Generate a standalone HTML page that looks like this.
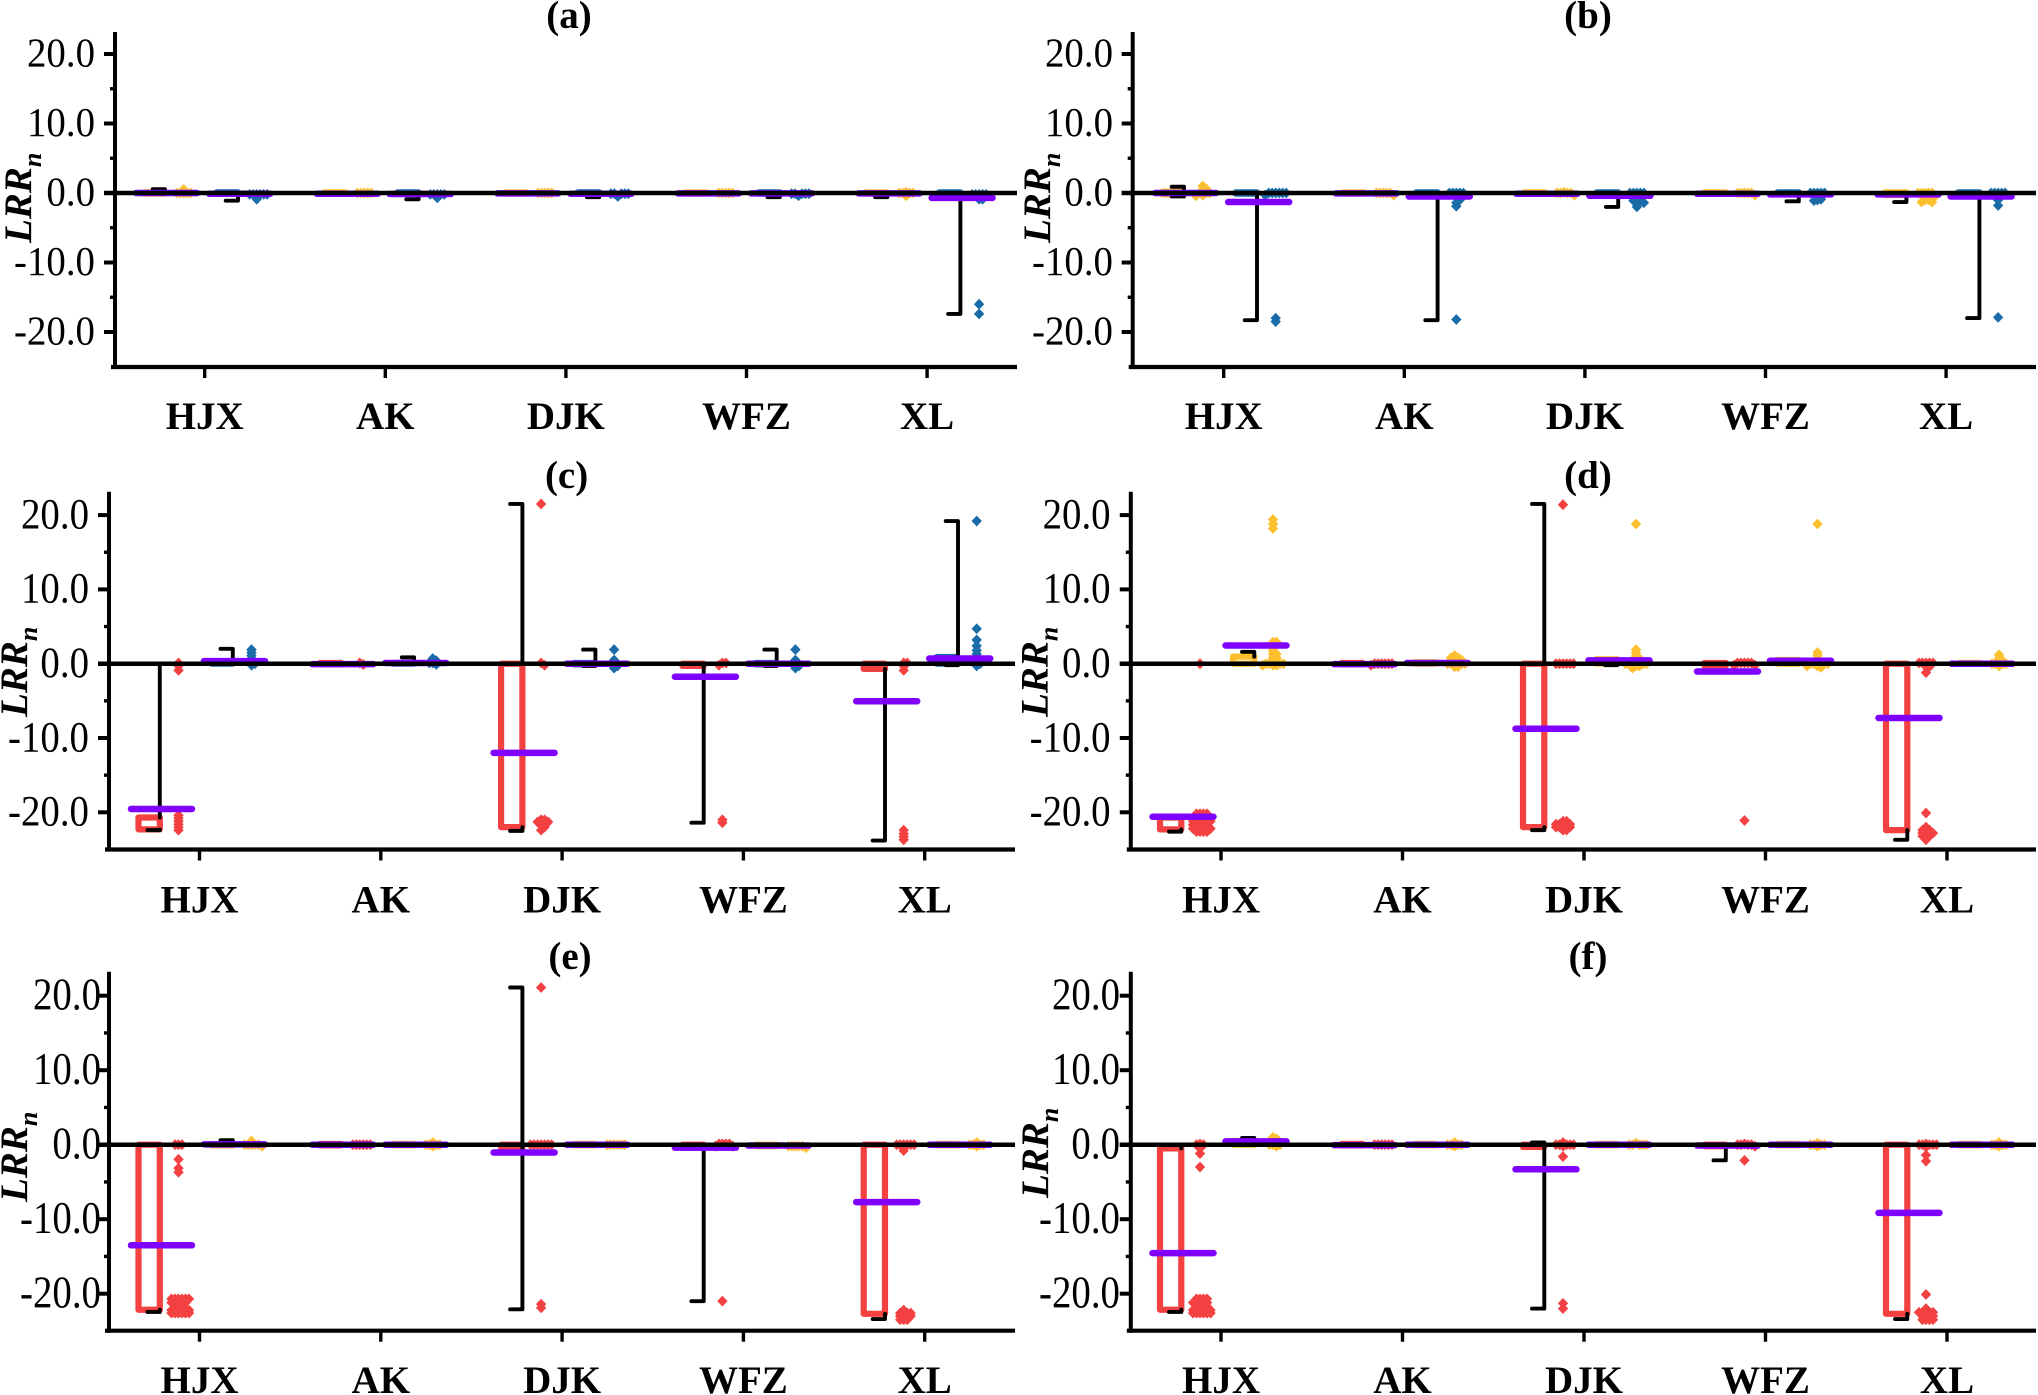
<!DOCTYPE html>
<html lang="en">
<head>
<meta charset="utf-8">
<title>LRRn box charts</title>
<style>
html,body{margin:0;padding:0;background:#fff;width:2038px;height:1395px;overflow:hidden}
svg{display:block}
text{font-family:"Liberation Serif",serif;fill:#000}
</style>
</head>
<body>
<svg id="figure" xmlns="http://www.w3.org/2000/svg" width="2038" height="1395" viewBox="0 0 2038 1395"></svg>
<script>
const categories = ['HJX','AK','DJK','WFZ','XL'];
const tickValues = [20,10,0,-10,-20];
const tickLabels = ['20.0','10.0','0.0','-10.0','-20.0'];
const minorTickValues = [15,5,-5,-15];

// Each array: HJX-1, HJX-2, AK-1, AK-2, DJK-1, DJK-2, WFZ-1, WFZ-2, XL-1, XL-2
const aQ1 = [-0.1,-0.1,-0.1,-0.1,-0.1,-0.1,-0.1,-0.1,-0.1,-0.2];
const aQ3 = [0.1,0.1,0.1,0.1,0.1,0.1,0.1,0.1,0.1,0.1];
const aLow = [-0.1,-1.1,-0.1,-0.9,-0.1,-0.6,-0.1,-0.6,-0.6,-17.4];
const aHigh = [0.55,0.1,0.1,0.1,0.1,0.1,0.1,0.1,0.1,0.1];
const aMean = [0,-0.1,-0.1,-0.15,-0.05,-0.1,-0.05,-0.05,-0.05,-0.7];
const aOutliers = [
  [0.5,0,0,0,0,0],[-0.9,-0.2,-0.2,-0.2,-0.2,-0.2,-0.2],[0,0,0,0,0],[-0.7,-0.2,-0.2,-0.2,-0.2,-0.2],[0,0,0,0,0],
  [-0.5,-0.1,-0.1,-0.1,-0.1,-0.1],[0,0,0,0,0],[-0.4,-0.1,-0.1,-0.1,-0.1,-0.1],[0.1,0,0,0,0,-0.4],[-0.9,-0.9,-0.2,-0.2,-0.2,-0.2,-0.2,-17.4,-16]
];

const bQ1 = [-0.2,-0.1,-0.1,-0.1,-0.1,-0.1,-0.1,-0.1,-0.3,-0.1];
const bQ3 = [0.2,0.1,0.1,0.1,0.1,0.1,0.1,0.1,0.1,0.1];
const bLow = [-0.5,-18.3,-0.1,-18.3,-0.3,-2,-0.1,-1.2,-1.3,-18];
const bHigh = [0.9,0.1,0.1,0.1,0.1,0.1,0.1,0.1,0.1,0.1];
const bMean = [0,-1.3,-0.05,-0.5,-0.1,-0.4,-0.1,-0.2,-0.2,-0.5];
const bOutliers = [
  [1,0.6,0.2,0,0,0,-0.3,-0.4],[0,0,0,0,0,0,-0.3,-18,-18.5],[0,0,0,0,0,-0.3],[0,0,0,0,0,-0.6,-1,-1.4,-1.9,-18.2],[0.1,0,0,0,0,-0.3],
  [0,0,0,0,0,-0.5,-1,-1.1,-1.1,-1.4,-1.5,-2],[0,0,0,0,0,-0.3],[0,0,0,0,0,-0.5,-0.9,-1,-1.1],[0,0,0,0,0,-0.4,-1,-1,-1.3,-1.3],[0,0,0,0,0,-0.5,-1,-1.8,-17.9]
];

const cQ1 = [-22.3,0,-0.1,0,-22,-0.1,-0.3,-0.1,-0.7,0];
const cQ3 = [-20.7,0.3,0.1,0.1,0,0.1,0,0.1,0,0.9];
const cLow = [-22.4,0,-0.1,0,-22.5,-0.3,-21.4,-0.3,-23.8,-0.2];
const cHigh = [0,2,0.1,0.85,21.5,1.9,0,1.9,0,19.2];
const cMean = [-19.55,0.35,-0.05,0.1,-12,0,-1.75,0,-5.05,0.7];
const cOutliers = [
  [0.1,-0.3,-0.9,-20.4,-20.8,-21.2,-21.6,-22,-22.4],[1.9,1.5,1.1,0.7,0.3,0,-0.2],[0.1,-0.1],[0.7,0.4,0.1,0.1,-0.1],[21.5,0.1,-0.2,-21,-21,-21.3,-21.3,-21.7,-22,-22.4],
  [1.9,0.5,0,-0.3,-0.6],[0.1,0.1,-0.2,-21,-21.4],[1.9,0.5,0,-0.3,-0.6],[0.1,0.1,-0.3,-0.9,-22.4,-22.9,-23.3,-23.7],[19.2,4.7,3.2,2.4,1.8,1.3,0.8,0.3,0,-0.3]
];

const dQ1 = [-22.3,0,-0.1,0,-22,0,-0.3,0,-22.4,0];
const dQ3 = [-20.7,0.95,0.1,0.2,0,0.6,0.1,0.5,0,0.1];
const dLow = [-22.6,0,-0.1,0,-22.4,-0.2,-0.3,0,-23.7,0];
const dHigh = [-20.7,1.6,0.1,0.2,21.5,0.6,0.1,0.5,0,0.1];
const dMean = [-20.6,2.45,-0.05,0.1,-8.75,0.45,-1.05,0.4,-7.3,0];
const dOutliers = [
  [0,-20.2,-20.2,-20.2,-20.2,-20.7,-20.7,-20.7,-20.7,-20.7,-21.2,-21.2,-21.2,-21.2,-21.2,-21.2,-21.7,-21.7,-21.7,-21.7,-21.7,-22.2,-22.2,-22.2,-22.2,-22.2,-22.2,-22.6,-22.6,-22.6,-22.6],
  [19.4,18.8,18.2,2.9,2.9,2.3,1.8,1.3,1.3,0.8,0.8,0.3,0.3,0,0,0,0,-0.2,-0.2,-0.2],
  [0,0,0,0,0,0,-0.2],
  [1.1,0.8,0.8,0.5,0.5,0.2,0,0,0,0,0,-0.4,-0.4],
  [21.4,0,0,0,0,0,0,-21.2,-21.2,-21.6,-21.6,-21.6,-21.6,-21.6,-22,-22,-22,-22,-22,-22.4,-22.4],
  [18.8,1.9,1.5,1,0.7,0.3,0.3,0,0,0,0,0,-0.3,-0.3,-0.6],
  [0.1,0.1,0.1,0.1,0.1,-0.2,-0.2,-21.1],
  [18.8,1.5,1.1,0.7,0.3,0,0,0,0,0,-0.3,-0.3,-0.5],
  [0.1,0.1,0.1,0.1,0.1,-0.4,-0.4,-1.2,-20.1,-22,-22.4,-22.4,-22.4,-22.8,-22.8,-22.8,-22.8,-23.2,-23.2,-23.2,-23.7],
  [1.2,0.7,0.4,0.2,0,0,0,0,-0.3]
];

const eQ1 = [-22.15,-0.1,-0.1,-0.1,-0.4,-0.1,-0.4,-0.2,-22.7,-0.1];
const eQ3 = [0,0.1,0.1,0.1,0,0.1,0,0,0,0.1];
const eLow = [-22.45,-0.1,-0.1,-0.1,-22.1,-0.1,-21,-0.2,-23.4,-0.1];
const eHigh = [0,0.6,0.1,0.1,21.1,0.1,0,0,0,0.1];
const eMean = [-13.5,0.05,0,0,-1.05,0,-0.4,-0.1,-7.7,0];
const eOutliers = [
  [0,0,0,-1.96,-3.15,-3.7,-20.7,-20.7,-20.7,-20.7,-20.7,-20.7,-21.2,-21.2,-21.2,-21.2,-21.2,-21.7,-21.7,-21.7,-22.2,-22.2,-22.2,-22.2,-22.2,-22.2,-22.6,-22.6,-22.6,-22.6,-22.6,-22.6],
  [0.5,0,0,0,0,0,-0.2],
  [0,0,0,0,0,0],
  [0.3,0,0,0,0,-0.2],
  [21.1,0,0,0,0,0,0,0,-21.4,-21.9],
  [0,0,0,0,0,0],
  [0.1,0.1,0.1,0.1,-0.2,-0.2,-21],
  [-0.2,-0.2,-0.2,-0.2,-0.2,-0.4],
  [0,0,0,0,0,0,-0.8,-22.2,-22.6,-22.6,-22.6,-22.6,-23,-23,-23,-23,-23.5,-23.5,-23.5],
  [0.3,0,0,0,0,-0.2]
];

const fQ1 = [-22.15,0,-0.1,-0.1,-0.3,-0.1,-0.2,-0.1,-22.7,-0.1];
const fQ3 = [-0.5,0.5,0.1,0.1,0,0.1,0,0.1,0,0.1];
const fLow = [-22.45,0,-0.1,-0.1,-22,-0.1,-2.1,-0.1,-23.4,-0.1];
const fHigh = [0,0.9,0.1,0.1,0.3,0.1,0,0.1,0,0.1];
const fMean = [-14.55,0.45,-0.05,0,-3.3,0,-0.1,0,-9.15,0];
const fOutliers = [
  [0.1,0,0,-0.5,-1.2,-3,-20.7,-20.7,-20.7,-20.7,-21.2,-21.2,-21.2,-21.2,-21.2,-21.7,-21.7,-21.7,-21.7,-22.2,-22.2,-22.2,-22.2,-22.2,-22.2,-22.6,-22.6,-22.6,-22.6,-22.6,-22.6],
  [1,0.8,0.5,0.5,0.2,0,0,0,-0.2],
  [0,0,0,0,0,0],
  [0.3,0,0,0,0,-0.2],
  [0.3,0,0,0,0,0,-0.2,-1.6,-21.3,-22],
  [0.2,0,0,0,0,0],
  [0.1,0,0,0,0,-0.2,-2.1],
  [0.2,0,0,0,0,-0.2],
  [0.1,0,0,0,0,0,-0.3,-1.4,-2.2,-20.1,-22,-22.5,-22.5,-22.5,-22.5,-22.5,-23,-23,-23,-23,-23.5,-23.5,-23.5,-23.5],
  [0.3,0,0,0,0,-0.2]
];

const colorRed = '#f34040';
const colorYellow = '#fcc02e';
const colorBlue = '#1a6ca8';
const colorMean = '#7f00ff';

const panels = [
  {id:'a',axisX:115,top:32,bottom:367,y0:193,unit:6.95,tick0:204.7,step:180.6,right:1017,titleX:569,titleY:28,labelRight:95,fontSize:41,catY:429,yTitleX:31,yTitleBottom:243,colors:[colorYellow,colorBlue],q1:aQ1,q3:aQ3,low:aLow,high:aHigh,mean:aMean,outliers:aOutliers},
  {id:'b',axisX:1132.7,top:32,bottom:367,y0:193,unit:6.95,tick0:1223.7,step:180.6,right:2036,titleX:1588,titleY:28,labelRight:1113,fontSize:41,catY:429,yTitleX:1050,yTitleBottom:243,colors:[colorYellow,colorBlue],q1:bQ1,q3:bQ3,low:bLow,high:bHigh,mean:bMean,outliers:bOutliers},
  {id:'c',axisX:109,top:491.7,bottom:849.5,y0:663.7,unit:7.43,tick0:199.5,step:181.3,right:1015,titleX:566.6,titleY:488,labelRight:89,fontSize:43,catY:912.7,yTitleX:27,yTitleBottom:717,colors:[colorRed,colorBlue],q1:cQ1,q3:cQ3,low:cLow,high:cHigh,mean:cMean,outliers:cOutliers},
  {id:'d',axisX:1130.8,top:491.7,bottom:849.5,y0:663.7,unit:7.43,tick0:1221,step:181.5,right:2036,titleX:1588,titleY:488,labelRight:1110.6,fontSize:43,catY:912.7,yTitleX:1047.6,yTitleBottom:717,colors:[colorRed,colorYellow],q1:dQ1,q3:dQ3,low:dLow,high:dHigh,mean:dMean,outliers:dOutliers},
  {id:'e',axisX:109,top:971.7,bottom:1330.7,y0:1144.7,unit:7.45,tick0:199.5,step:181.3,right:1015,titleX:570,titleY:969,labelRight:101,fontSize:45,catY:1393,yTitleX:27,yTitleBottom:1202,colors:[colorRed,colorYellow],q1:eQ1,q3:eQ3,low:eLow,high:eHigh,mean:eMean,outliers:eOutliers},
  {id:'f',axisX:1130.8,top:971.7,bottom:1330.7,y0:1144.7,unit:7.45,tick0:1221,step:181.5,right:2036,titleX:1588,titleY:969,labelRight:1120,fontSize:45,catY:1393,yTitleX:1048,yTitleBottom:1198,colors:[colorRed,colorYellow],q1:fQ1,q3:fQ3,low:fLow,high:fHigh,mean:fMean,outliers:fOutliers}
];

const NS = 'http://www.w3.org/2000/svg';
const root = document.getElementById('figure');
function make(parent, tag, attrs) {
  const el = document.createElementNS(NS, tag);
  for (const k in attrs) el.setAttribute(k, attrs[k]);
  parent.appendChild(el);
  return el;
}
function natural(label, fs) {
  let w = 0;
  for (const ch of label) w += ch === '.' ? 0.25 : ch === '-' ? 0.333 : 0.5;
  return w * fs;
}
function swarm(values, yOf, step) {
  const placed = [];
  values.forEach(function (v) {
    const y = yOf(v);
    let k = 0;
    for (;;) {
      const off = k === 0 ? 0 : (k % 2 ? 1 : -1) * Math.ceil(k / 2) * step;
      const hit = placed.some(function (p) { return Math.abs(p.y - y) < 2.9 && Math.abs(p.off - off) < step - 0.1; });
      if (!hit) { placed.push({ y: y, off: off, v: v }); break; }
      k++;
    }
  });
  return placed;
}

panels.forEach(function (p) {
  const panel = make(root, 'g', {});
  
  
  const yOf = function (v) { return p.y0 - v * p.unit; };
  const xOf = function (c) { return p.tick0 + c * p.step; };

  const title = make(panel, 'text', { x: p.titleX, y: p.titleY, 'text-anchor': 'middle', 'font-size': 39, 'font-weight': 'bold' });
  title.textContent = '(' + p.id + ')';
  
  

  const hScale = 68 / (1.75 * p.fontSize);
  tickValues.forEach(function (v, i) {
    const tick = make(panel, 'line', { x1: p.axisX - 11, x2: p.axisX, y1: yOf(v), y2: yOf(v), stroke: '#000', 'stroke-width': 4 });
    
    
    const lab = make(panel, 'text', { x: p.labelRight, y: yOf(v) + p.fontSize * 0.31, 'text-anchor': 'end', 'font-size': p.fontSize, textLength: natural(tickLabels[i], p.fontSize) * hScale, lengthAdjust: 'spacingAndGlyphs' });
    lab.textContent = tickLabels[i];
    
    
  });
  minorTickValues.forEach(function (v) {
    const tick = make(panel, 'line', { x1: p.axisX - 5, x2: p.axisX, y1: yOf(v), y2: yOf(v), stroke: '#000', 'stroke-width': 3.4 });
    
    
  });

  const yTitle = make(panel, 'text', { transform: 'translate(' + p.yTitleX + ',' + p.yTitleBottom + ') rotate(-90)', 'font-size': 39, 'font-weight': 'bold', 'font-style': 'italic' });
  
  
  const main = make(yTitle, 'tspan', {});
  main.textContent = 'LRR';
  const sub = make(yTitle, 'tspan', { dy: 10, 'font-size': 26 });
  sub.textContent = 'n';

  categories.forEach(function (name, c) {
    const tick = make(panel, 'line', { x1: xOf(c), x2: xOf(c), y1: p.bottom, y2: p.bottom + 11, stroke: '#000', 'stroke-width': 3.4 });
    
    
    const lab = make(panel, 'text', { x: xOf(c), y: p.catY, 'text-anchor': 'middle', 'font-size': 39, 'font-weight': 'bold' });
    lab.textContent = name;
    
    

    [0, 1].forEach(function (g) {
      const idx = c * 2 + g;
      const cx = xOf(c) + (g === 0 ? -38 : 35);
      const color = p.colors[g];
      const q1 = p.q1[idx], q3 = p.q3[idx], lo = p.low[idx], hi = p.high[idx], mean = p.mean[idx];
      const edge = cx - 1.7;

      const box = make(panel, 'rect', { x: cx - 23, y: yOf(q3), width: 21.3, height: Math.max(0.5, yOf(q1) - yOf(q3)), fill: 'none', stroke: color, 'stroke-width': 6.2, 'stroke-linejoin': 'round' });
      
      

      if (hi - q3 > 0.05) {
        const up = make(panel, 'path', { d: 'M' + (cx - 14) + ' ' + yOf(hi) + 'L' + edge + ' ' + yOf(hi) + 'L' + edge + ' ' + yOf(q3), fill: 'none', stroke: '#000', 'stroke-width': 3.9, 'stroke-linecap': 'round', 'stroke-linejoin': 'round' });
        
        
      }
      if (q1 - lo > 0.05) {
        const down = make(panel, 'path', { d: 'M' + (cx - 14) + ' ' + yOf(lo) + 'L' + edge + ' ' + yOf(lo) + 'L' + edge + ' ' + yOf(q1), fill: 'none', stroke: '#000', 'stroke-width': 3.9, 'stroke-linecap': 'round', 'stroke-linejoin': 'round' });
        
        
      }

      swarm(p.outliers[idx], yOf, 3.5).forEach(function (pt) {
        const px = cx + 17 + pt.off;
        const d = make(panel, 'polygon', { points: (px - 5.2) + ',' + pt.y + ' ' + px + ',' + (pt.y - 5.4) + ' ' + (px + 5.2) + ',' + pt.y + ' ' + px + ',' + (pt.y + 5.4), fill: color });
        
        
      });

      const m = make(panel, 'line', { x1: cx - 30.5, x2: cx + 30.5, y1: yOf(mean), y2: yOf(mean), stroke: colorMean, 'stroke-width': 6.5, 'stroke-linecap': 'round' });
      
      
    });
  });

  const zero = make(panel, 'line', { x1: p.axisX - 11, x2: p.right, y1: yOf(0), y2: yOf(0), stroke: '#000', 'stroke-width': 4.5 });
  
  

  const yAxis = make(panel, 'line', { x1: p.axisX, x2: p.axisX, y1: p.top, y2: p.bottom + 2, stroke: '#000', 'stroke-width': 4 });
  
  

  const xAxis = make(panel, 'line', { x1: p.axisX - 4, x2: p.right, y1: p.bottom, y2: p.bottom, stroke: '#000', 'stroke-width': 4.2 });
  
  
});
</script>
</body>
</html>
